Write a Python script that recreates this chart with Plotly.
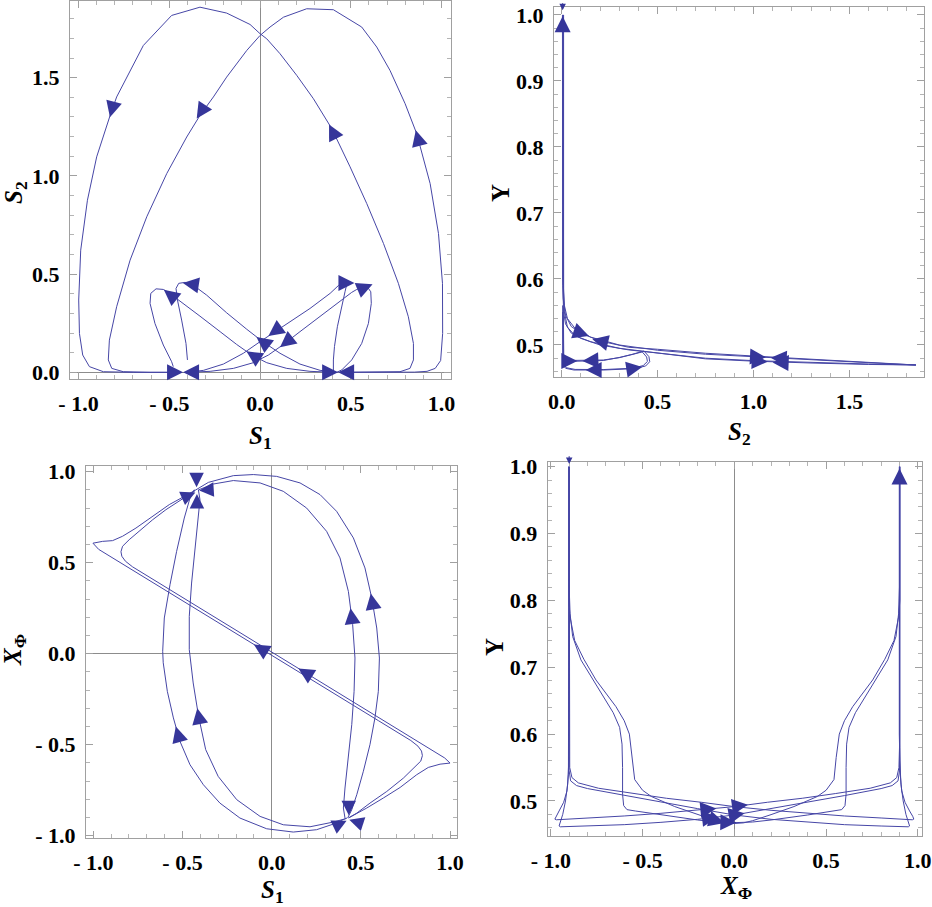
import plotly.graph_objects as go

# ---------------- Panel 1 : S1 vs S2 ----------------
p1_archL_s1 = [0.441, 0.600, 0.771, 0.826, 0.845, 0.845, 0.817, 0.762, 0.680, 0.588, 0.496, 0.395, 0.294, 0.202, 0.110, 0.037, 0.000, -0.055, -0.147, -0.184, -0.331, -0.487, -0.643, -0.735, -0.790, -0.826, -0.900, -0.951, -0.988, -0.999, -0.995, -0.977, -0.940, -0.863, -0.698, -0.441]
p1_archL_s2 = [0.000, 0.000, 0.003, 0.020, 0.063, 0.147, 0.283, 0.453, 0.656, 0.859, 1.046, 1.241, 1.393, 1.512, 1.622, 1.698, 1.724, 1.771, 1.812, 1.829, 1.859, 1.817, 1.664, 1.503, 1.402, 1.308, 1.097, 0.876, 0.622, 0.368, 0.198, 0.088, 0.029, 0.003, 0.000, 0.000]
p1_archR_s1 = [0.441, 0.700, 0.850, 0.920, 0.965, 0.995, 1.006, 1.005, 0.983, 0.937, 0.885, 0.863, 0.799, 0.716, 0.643, 0.560, 0.404, 0.257, 0.129, 0.055, 0.000, -0.073, -0.184, -0.257, -0.331, -0.404, -0.514, -0.624, -0.716, -0.790, -0.830, -0.836, -0.817, -0.753, -0.606, -0.441]
p1_archR_s2 = [0.000, 0.000, 0.001, 0.005, 0.020, 0.060, 0.198, 0.453, 0.707, 0.961, 1.147, 1.215, 1.368, 1.537, 1.656, 1.758, 1.846, 1.851, 1.808, 1.758, 1.715, 1.639, 1.503, 1.402, 1.308, 1.198, 1.012, 0.792, 0.571, 0.334, 0.164, 0.063, 0.020, 0.003, 0.000, 0.000]
p1_loopA_s1 = [-0.478, -0.487, -0.533, -0.579, -0.606, -0.602, -0.573, -0.533, -0.505, -0.441, -0.331, -0.220, -0.129, -0.046, 0.037, 0.147, 0.275, 0.404]
p1_loopA_s2 = [0.029, 0.054, 0.139, 0.249, 0.351, 0.402, 0.425, 0.422, 0.407, 0.364, 0.286, 0.207, 0.142, 0.088, 0.049, 0.020, 0.005, 0.000]
p1_loopB_s1 = [-0.400, -0.408, -0.432, -0.455, -0.463, -0.448, -0.413, -0.376, -0.294, -0.184, -0.073, 0.015, 0.110, 0.220, 0.331, 0.422]
p1_loopB_s2 = [0.063, 0.147, 0.266, 0.368, 0.427, 0.453, 0.458, 0.449, 0.393, 0.303, 0.219, 0.156, 0.097, 0.042, 0.010, 0.000]
p1_loopC_s1 = [-0.404, -0.312, -0.202, -0.092, 0.000, 0.073, 0.165, 0.275, 0.386, 0.432, 0.463, 0.478, 0.468, 0.450, 0.426, 0.410, 0.404, 0.404]
p1_loopC_s2 = [0.000, 0.010, 0.042, 0.097, 0.156, 0.202, 0.258, 0.325, 0.402, 0.442, 0.458, 0.449, 0.410, 0.334, 0.232, 0.131, 0.063, 0.003]
p1_loopD_s1 = [-0.404, -0.275, -0.147, -0.037, 0.046, 0.129, 0.220, 0.331, 0.441, 0.505, 0.533, 0.588, 0.610, 0.613, 0.597, 0.560, 0.505, 0.450, 0.422]
p1_loopD_s2 = [0.000, 0.005, 0.020, 0.049, 0.088, 0.142, 0.207, 0.286, 0.364, 0.407, 0.422, 0.439, 0.410, 0.351, 0.249, 0.147, 0.063, 0.012, 0.000]
# arrows: tip_x, tip_y, tail_x, tail_y
p1_arrows = [
    (-0.827, 1.299, -0.805, 1.375), (-0.349, 1.292, -0.300, 1.362),
    (0.380, 1.262, 0.425, 1.180), (0.858, 1.232, 0.880, 1.155),
    (-0.424, 0.0, -0.50, 0.0), (-0.424, 0.0, -0.35, 0.0),
    (0.430, 0.0, 0.35, 0.0), (0.430, 0.0, 0.51, 0.0),
    (-0.425, 0.455, -0.355, 0.445), (-0.530, 0.420, -0.475, 0.380),
    (-0.020, 0.180, 0.040, 0.138), (-0.075, 0.107, -0.010, 0.068),
    (0.046, 0.185, 0.110, 0.228), (0.110, 0.128, 0.170, 0.172),
    (0.520, 0.455, 0.450, 0.455), (0.620, 0.448, 0.560, 0.425),
]

# ---------------- Panel 2 : S2 vs Y ----------------
p2_t1_s2 = [0.004, 0.004, 0.005, 0.008, 0.020, 0.050, 0.100, 0.200, 0.350, 0.500, 0.750, 1.000, 1.300, 1.600, 1.847, 1.600, 1.300, 1.000, 0.750, 0.500, 0.350, 0.200, 0.100, 0.050, 0.020, 0.010, 0.006, 0.006]
p2_t1_y = [1.000, 0.650, 0.600, 0.570, 0.545, 0.528, 0.518, 0.506, 0.4965, 0.4935, 0.4875, 0.4833, 0.4785, 0.4738, 0.4697, 0.4712, 0.4735, 0.4763, 0.4800, 0.4875, 0.4925, 0.5000, 0.5100, 0.5180, 0.5320, 0.5500, 0.5900, 1.000]
p2_t2_s2 = [0.008, 0.008, 0.010, 0.014, 0.030, 0.070, 0.150, 0.300, 0.500, 0.750, 1.000, 1.300, 1.600, 1.847, 1.600, 1.300, 1.000, 0.750, 0.500, 0.300, 0.150, 0.070, 0.030, 0.014, 0.010, 0.010]
p2_t2_y = [1.000, 0.620, 0.585, 0.560, 0.540, 0.525, 0.512, 0.500, 0.4920, 0.4860, 0.4820, 0.4775, 0.4732, 0.4697, 0.4705, 0.4727, 0.4755, 0.4790, 0.4880, 0.4950, 0.5050, 0.5140, 0.5270, 0.5500, 0.5800, 1.000]
p2_l1_s2 = [0.005, 0.005, 0.007, 0.021, 0.064, 0.220, 0.377, 0.438, 0.459, 0.455, 0.429, 0.370, 0.304, 0.217, 0.134, 0.050, 0.015, 0.006, 0.005]
p2_l1_y = [0.560, 0.480, 0.4697, 0.4646, 0.4621, 0.4621, 0.4641, 0.4682, 0.4747, 0.4823, 0.4909, 0.4860, 0.4813, 0.4765, 0.4755, 0.4752, 0.4755, 0.4800, 0.5500]
p2_l2_s2 = [0.009, 0.009, 0.011, 0.025, 0.070, 0.220, 0.370, 0.425, 0.447, 0.443, 0.420, 0.360, 0.300, 0.217, 0.134, 0.050, 0.018, 0.010, 0.009]
p2_l2_y = [0.555, 0.481, 0.4705, 0.4655, 0.4630, 0.4628, 0.4648, 0.4688, 0.4750, 0.4818, 0.4895, 0.4850, 0.4808, 0.4772, 0.4765, 0.4762, 0.4765, 0.4805, 0.5450]
p2_arrows = [
    (0.005, 0.998, 0.005, 0.972),
    (0.142, 0.5136, 0.090, 0.519), (0.160, 0.5086, 0.220, 0.5045),
    (0.0815, 0.4758, 0.029, 0.4758), (0.108, 0.4758, 0.168, 0.4765),
    (0.420, 0.4665, 0.360, 0.4638), (0.125, 0.4621, 0.186, 0.4621),
    (1.065, 0.4813, 1.000, 0.4823), (1.090, 0.4805, 1.160, 0.4795),
    (1.074, 0.4747, 1.000, 0.4757), (1.100, 0.4735, 1.170, 0.4727),
]
p2_small_arrows = [(0.005, 1.007, 0.005, 1.020)]

# ---------------- Panel 3 : S1 vs X_phi ----------------
p3_o_s1 = [0.426, 0.449, 0.477, 0.514, 0.551, 0.579, 0.598, 0.604, 0.589, 0.561, 0.523, 0.458, 0.364, 0.271, 0.159, 0.028, -0.103, -0.215, -0.355, -0.425]
p3_o_x = [-0.903, -0.857, -0.775, -0.646, -0.500, -0.353, -0.207, -0.024, 0.141, 0.306, 0.471, 0.636, 0.782, 0.874, 0.938, 0.974, 0.984, 0.978, 0.941, 0.900]
p3_ol_s1 = [0.421, 0.346, 0.252, 0.121, -0.028, -0.178, -0.290, -0.383, -0.458, -0.514, -0.551, -0.585, -0.608, -0.611, -0.602, -0.570, -0.533, -0.490, -0.458, -0.434]
p3_ol_x = [-0.903, -0.936, -0.967, -0.980, -0.962, -0.903, -0.821, -0.720, -0.610, -0.482, -0.353, -0.207, -0.050, 0.013, 0.196, 0.379, 0.562, 0.745, 0.855, 0.901]
p3_i_s1 = [0.411, 0.402, 0.411, 0.430, 0.449, 0.462, 0.467, 0.454, 0.430, 0.383, 0.308, 0.196, 0.065, -0.065, -0.215, -0.327, -0.410]
p3_i_x = [-0.903, -0.848, -0.738, -0.573, -0.390, -0.207, -0.024, 0.159, 0.342, 0.526, 0.672, 0.800, 0.892, 0.938, 0.951, 0.932, 0.900]
p3_il_s1 = [0.420, 0.346, 0.215, 0.065, -0.065, -0.196, -0.300, -0.370, -0.410, -0.440, -0.462, -0.462, -0.449, -0.430, -0.411, -0.402, -0.411]
p3_il_x = [-0.905, -0.925, -0.951, -0.940, -0.894, -0.802, -0.674, -0.527, -0.344, -0.161, 0.022, 0.205, 0.388, 0.571, 0.736, 0.846, 0.901]
p3_d1_s1 = [0.430, 0.458, 0.533, 0.626, 0.720, 0.813, 0.878, 0.944, 1.000, 0.970, 0.900, 0.600, 0.300, 0.000, -0.300, -0.600, -0.780, -0.820, -0.840, -0.845, -0.836, -0.799, -0.743, -0.667, -0.593, -0.518, -0.481, -0.430]
p3_d1_x = [-0.903, -0.888, -0.848, -0.793, -0.735, -0.665, -0.625, -0.607, -0.601, -0.573, -0.531, -0.351, -0.171, 0.009, 0.189, 0.369, 0.477, 0.508, 0.535, 0.560, 0.590, 0.626, 0.672, 0.736, 0.791, 0.841, 0.864, 0.895]
p3_d2_s1 = [0.435, 0.477, 0.551, 0.645, 0.738, 0.804, 0.836, 0.845, 0.840, 0.820, 0.780, 0.600, 0.300, 0.000, -0.300, -0.600, -0.900, -0.970, -1.002, -0.948, -0.892, -0.836, -0.761, -0.667, -0.574, -0.490, -0.425]
p3_d2_x = [-0.900, -0.876, -0.821, -0.757, -0.684, -0.619, -0.590, -0.560, -0.535, -0.508, -0.477, -0.369, -0.189, -0.009, 0.171, 0.351, 0.531, 0.573, 0.607, 0.617, 0.621, 0.645, 0.690, 0.754, 0.819, 0.864, 0.900]
p3_arrows = [
    (0.5555, 0.330, 0.5705, 0.250), (-0.5375, -0.400, -0.517, -0.470),
    (0.442, 0.250, 0.453, 0.170), (-0.417, -0.300, -0.402, -0.380),
    (-0.100, 0.051, -0.030, 0.009), (0.150, -0.081, 0.220, -0.123),
]
p3_star_arrows = [
    (-0.421, 0.914, -0.421, 0.983), (-0.406, 0.897, -0.340, 0.901),
    (-0.428, 0.886, -0.490, 0.859), (-0.419, 0.877, -0.419, 0.822),
    (0.432, -0.888, 0.432, -0.826), (0.420, -0.918, 0.355, -0.949),
    (0.435, -0.912, 0.495, -0.931),
]

# ---------------- Panel 4 : X_phi vs Y ----------------
p4_hr1_x = [-0.900, -0.900, -0.897, -0.885, -0.850, -0.740, -0.550, -0.370, -0.180, 0.000, 0.200, 0.400, 0.600, 0.800, 0.920, 0.970, 0.978, 0.972, 0.955, 0.930, 0.912, 0.904, 0.901, 0.901]
p4_hr1_y = [1.000, 0.580, 0.550, 0.535, 0.527, 0.519, 0.511, 0.504, 0.498, 0.4915, 0.4860, 0.4815, 0.4775, 0.4745, 0.4725, 0.4718, 0.4728, 0.4770, 0.4850, 0.4980, 0.5150, 0.5400, 0.5800, 1.000]
p4_hl1_x = [-0.901, -0.901, -0.904, -0.912, -0.930, -0.955, -0.972, -0.978, -0.970, -0.920, -0.800, -0.600, -0.400, -0.200, 0.000, 0.180, 0.370, 0.550, 0.740, 0.850, 0.885, 0.897, 0.900, 0.900]
p4_hl1_y = [1.000, 0.580, 0.540, 0.515, 0.498, 0.485, 0.477, 0.4728, 0.4718, 0.4725, 0.4745, 0.4775, 0.4815, 0.4860, 0.4915, 0.498, 0.504, 0.511, 0.519, 0.527, 0.535, 0.550, 0.580, 1.000]
p4_hr2_x = [-0.902, -0.902, -0.900, -0.892, -0.860, -0.800, -0.600, -0.400, -0.200, 0.000, 0.200, 0.400, 0.600, 0.800, 0.920, 0.948, 0.955, 0.950, 0.935, 0.920, 0.908, 0.902, 0.899, 0.899]
p4_hr2_y = [1.000, 0.580, 0.545, 0.530, 0.523, 0.5185, 0.508, 0.4985, 0.4885, 0.4790, 0.4725, 0.4680, 0.4645, 0.4625, 0.4615, 0.4613, 0.4625, 0.4670, 0.4800, 0.5000, 0.5250, 0.5600, 0.6000, 1.000]
p4_hl2_x = [-0.899, -0.899, -0.902, -0.908, -0.920, -0.935, -0.950, -0.955, -0.948, -0.920, -0.800, -0.600, -0.400, -0.200, 0.000, 0.200, 0.400, 0.600, 0.800, 0.860, 0.892, 0.900, 0.902, 0.902]
p4_hl2_y = [1.000, 0.600, 0.560, 0.525, 0.500, 0.480, 0.467, 0.4625, 0.4613, 0.4615, 0.4625, 0.4645, 0.4680, 0.4725, 0.4790, 0.4885, 0.4985, 0.508, 0.5185, 0.523, 0.530, 0.545, 0.580, 1.000]
p4_sc1_x = [-0.900, -0.900, -0.895, -0.881, -0.836, -0.736, -0.660, -0.625, -0.612, -0.609, -0.609, -0.603, -0.585, -0.540, -0.400, -0.200, -0.100, 0.000, 0.100, 0.200, 0.400, 0.540, 0.585, 0.603, 0.609, 0.609, 0.612, 0.625, 0.660, 0.736, 0.836, 0.881, 0.895, 0.900, 0.900]
p4_sc1_y = [1.000, 0.820, 0.780, 0.746, 0.711, 0.666, 0.632, 0.610, 0.585, 0.550, 0.510, 0.493, 0.487, 0.485, 0.479, 0.4715, 0.4685, 0.4675, 0.4685, 0.4715, 0.479, 0.485, 0.487, 0.493, 0.510, 0.550, 0.585, 0.610, 0.632, 0.666, 0.711, 0.746, 0.780, 0.820, 1.000]
p4_sc2_x = [-0.902, -0.902, -0.895, -0.870, -0.820, -0.754, -0.645, -0.600, -0.572, -0.555, -0.543, -0.500, -0.452, -0.325, -0.200, -0.100, -0.050, 0.000, 0.050, 0.100, 0.200, 0.325, 0.452, 0.500, 0.543, 0.555, 0.572, 0.600, 0.645, 0.754, 0.820, 0.870, 0.895, 0.902, 0.902]
p4_sc2_y = [1.000, 0.800, 0.775, 0.740, 0.712, 0.681, 0.641, 0.620, 0.600, 0.565, 0.532, 0.516, 0.5066, 0.4916, 0.4795, 0.4705, 0.4672, 0.4662, 0.4672, 0.4705, 0.4795, 0.4916, 0.5066, 0.516, 0.532, 0.565, 0.600, 0.620, 0.641, 0.681, 0.712, 0.740, 0.775, 0.800, 1.000]
p4_arrows = [
    (-0.098, 0.4888, -0.160, 0.4871), (0.074, 0.4942, 0.010, 0.4919),
    (0.056, 0.4817, -0.004, 0.4788), (-0.089, 0.4761, -0.150, 0.4741),
    (-0.053, 0.4671, -0.113, 0.4717), (0.011, 0.4676, -0.049, 0.4680),
    (0.900, 0.9975, 0.900, 0.972),
]
p4_small_arrows = [(-0.900, 1.004, -0.900, 1.018)]

# tick labels
sym_vals = [-1.0, -0.5, 0.0, 0.5, 1.0]
sym_text = ["-\u00a01.0", "-\u00a00.5", "0.0", "0.5", "1.0"]
s2_vals = [0.0, 0.5, 1.0, 1.5]
s2_text = ["0.0", "0.5", "1.0", "1.5"]
y_vals = [0.5, 0.6, 0.7, 0.8, 0.9, 1.0]
y_text = ["0.5", "0.6", "0.7", "0.8", "0.9", "1.0"]

LINE = "#4646a6"
HEAD = "#36369a"
W, H = 932, 907

fig = go.Figure()

def add_curves(xs_list, ys_list, xa, ya):
    for xs, ys in zip(xs_list, ys_list):
        fig.add_trace(go.Scatter(x=xs, y=ys, mode="lines", xaxis=xa, yaxis=ya,
                                 line=dict(color=LINE, width=1), hoverinfo="skip",
                                 showlegend=False))

add_curves([p1_archL_s1, p1_archR_s1, p1_loopA_s1, p1_loopB_s1, p1_loopC_s1, p1_loopD_s1],
           [p1_archL_s2, p1_archR_s2, p1_loopA_s2, p1_loopB_s2, p1_loopC_s2, p1_loopD_s2], "x", "y")
add_curves([p2_t1_s2, p2_t2_s2, p2_l1_s2, p2_l2_s2],
           [p2_t1_y, p2_t2_y, p2_l1_y, p2_l2_y], "x2", "y2")
add_curves([p3_o_s1, p3_ol_s1, p3_i_s1, p3_il_s1, p3_d1_s1, p3_d2_s1],
           [p3_o_x, p3_ol_x, p3_i_x, p3_il_x, p3_d1_x, p3_d2_x], "x3", "y3")
add_curves([p4_hr1_x, p4_hl1_x, p4_hr2_x, p4_hl2_x, p4_sc1_x, p4_sc2_x],
           [p4_hr1_y, p4_hl1_y, p4_hr2_y, p4_hl2_y, p4_sc1_y, p4_sc2_y], "x4", "y4")

annotations = []

def add_arrows(arrows, xr, yr, size=3.2):
    for tx, ty, ax_, ay_ in arrows:
        annotations.append(dict(x=tx, y=ty, ax=ax_, ay=ay_, xref=xr, yref=yr,
                                axref=xr, ayref=yr, text="", showarrow=True,
                                arrowhead=2, arrowsize=size, arrowwidth=1,
                                arrowcolor=HEAD, standoff=0))

add_arrows(p1_arrows, "x", "y")
add_arrows(p2_arrows, "x2", "y2")
add_arrows(p2_small_arrows, "x2", "y2", size=1.3)
add_arrows(p3_arrows, "x3", "y3")
add_arrows(p3_star_arrows, "x3", "y3", size=2.9)
add_arrows(p4_arrows, "x4", "y4")
add_arrows(p4_small_arrows, "x4", "y4", size=1.3)

TF = dict(family="Liberation Serif", size=22, color="black", weight="bold")

def axis(domain, rng, vals, text, minor, anchor, zero):
    return dict(domain=domain, range=rng, tickmode="array", tickvals=vals, ticktext=text,
                ticks="inside", ticklen=7, tickwidth=1, tickcolor="#a0a0a0",
                showline=True, linecolor="#a0a0a0", linewidth=1, mirror="ticks",
                showgrid=False, zeroline=zero, zerolinecolor="#8c8c8c", zerolinewidth=1,
                minor=dict(ticks="inside", ticklen=4, tickcolor="#b4b4b4", dtick=minor,
                           tick0=0, showgrid=False),
                tickfont=TF, anchor=anchor, fixedrange=True, ticklabelstandoff=5,
                automargin=False)

def px_x(a, b):
    return [a / W, b / W]

def px_y(top, bottom):
    return [1 - bottom / H, 1 - top / H]

layout = dict(
    width=W, height=H, margin=dict(l=0, r=0, t=0, b=0, pad=0, autoexpand=False),
    paper_bgcolor="white", plot_bgcolor="white", showlegend=False, hovermode=False,
    xaxis=axis(px_x(70, 451), [-1.047, 1.052], sym_vals, sym_text, 0.1, "y", True),
    yaxis=axis(px_y(0.5, 379), [-0.034, 1.893], s2_vals, s2_text, 0.1, "x", True),
    xaxis2=axis(px_x(554, 924), [-0.040, 1.889], s2_vals, s2_text, 0.1, "y2", False),
    yaxis2=axis(px_y(7, 377), [0.4515, 1.012], y_vals, y_text, 0.02, "x2", False),
    xaxis3=axis(px_x(86, 457), [-1.041, 1.039], sym_vals, sym_text, 0.1, "y3", True),
    yaxis3=axis(px_y(466, 837.7), [-1.011, 1.031], sym_vals, sym_text, 0.1, "x3", True),
    xaxis4=axis(px_x(547.7, 921.7), [-1.017, 1.021], sym_vals, sym_text, 0.1, "y4", True),
    yaxis4=axis(px_y(461.7, 835.7), [0.448, 1.0075], y_vals, y_text, 0.02, "x4", False),
)

TTF = dict(family="Liberation Serif", size=25, color="black")

def title(text, cx, cy, angle=0):
    annotations.append(dict(text=text, x=cx / W, y=1 - cy / H, xref="paper", yref="paper",
                            showarrow=False, font=TTF, textangle=angle,
                            xanchor="center", yanchor="middle"))

title("<b><i>S</i><sub>1</sub></b>", 260, 437)
title("<b><i>S</i><sub>2</sub></b>", 15, 193, -90)
title("<b>Y</b>", 500, 193, -90)
title("<b><i>S</i><sub>2</sub></b>", 739, 433)
title("<b><i>X</i><sub>Φ</sub></b>", 14, 650, -90)
title("<b><i>S</i><sub>1</sub></b>", 272, 891)
title("<b>Y</b>", 494, 647, -90)
title("<b><i>X</i><sub>Φ</sub></b>", 736, 887)

layout["annotations"] = annotations
fig.update_layout(**layout)
fig.write_html("out.html",
               post_script="document.body.style.margin='0';document.body.style.overflow='hidden';")
